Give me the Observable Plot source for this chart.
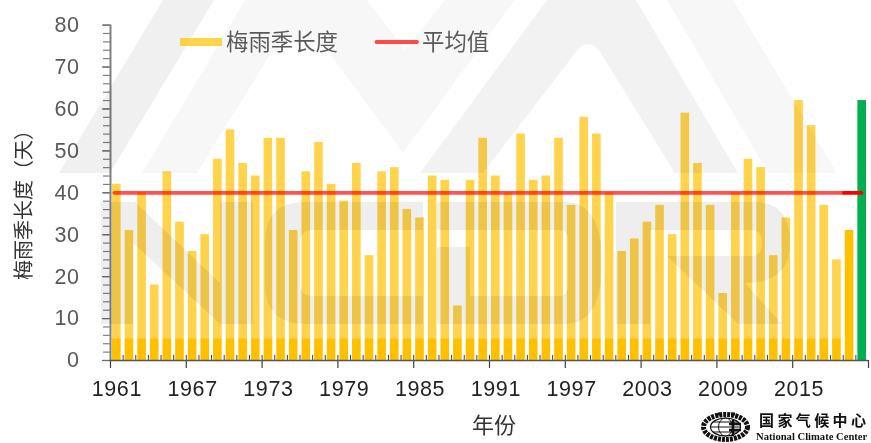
<!DOCTYPE html>
<html lang="zh">
<head>
<meta charset="utf-8">
<script src="https://cdn.jsdelivr.net/npm/d3@7"></script>
<script src="https://cdn.jsdelivr.net/npm/@observablehq/plot@0.6"></script>
<style>
html,body{margin:0;padding:0;background:#fff;}
#stage{position:relative;width:871px;height:443px;overflow:hidden;background:#fff;filter:blur(0.4px);font-family:"Noto Sans CJK SC","Noto Sans",sans-serif;}
#chart svg{display:block;background:transparent;}
.abs{position:absolute;white-space:nowrap;line-height:1;}
.overlay{position:absolute;left:0;top:0;pointer-events:none;}
</style>
</head>
<body>
<div id="stage">
  <div id="chart"></div>
  <svg class="overlay" width="871" height="443" viewBox="0 0 871 443">
    <g fill="#000">
      <path fill-opacity="0.06" d="M59,173L163,0H214L110,173Z"/>
      <path fill-opacity="0.03" d="M142,173L245,0H367L405,50L445,0H515L403,153L333,58Q300,25 270,55L197,173Z"/>
      <path fill-opacity="0.05" d="M420,173L547,0H636L738,173H675L600,52Q588,36 576,52L483,173Z"/>
      <path fill-opacity="0.03" d="M667,0H733L837,173H768Z"/>
      <g fill-opacity="0.067" fill-rule="evenodd">
        <path d="M101,202H135L220,283V202H253V324H220L133,243V324H101Z"/>
        <path d="M423,202H305Q265,202 265,242V284Q265,324 305,324H423V296H313Q300,296 300,283V243Q300,230 313,230H423Z"/>
        <path d="M437,202H565Q602,202 602,263Q602,324 565,324H437ZM437,230V247H470V296H558Q568,296 568,286V240Q568,230 558,230Z"/>
        <path d="M616,202H755Q790,202 790,243Q790,283 745,283L782,324H738L667,256H650V324H616ZM650,230V256H752Q762,256 762,243Q762,230 752,230Z"/>
      </g>
    </g>
  </svg>
  <svg class="overlay" width="871" height="443" viewBox="0 0 871 443">
    <rect x="180" y="38" width="42" height="8" fill="#FFC000" fill-opacity="0.7"/>
    <line x1="376.5" x2="417" y1="42" y2="42" stroke="#FF0000" stroke-opacity="0.7" stroke-width="3.8" stroke-linecap="round"/>
    <g fill="none" stroke="#111">
      <ellipse cx="725.5" cy="427" rx="22" ry="12.5" stroke-width="5" stroke-dasharray="3 1"/>
      <ellipse cx="725.5" cy="427" rx="15" ry="9" stroke-width="1.2"/>
      <ellipse cx="725.5" cy="427" rx="7" ry="9" stroke-width="1"/>
      <path d="M711,427H740M713,422H738M713,432H738" stroke-width="1"/>
      <path d="M733,420V436M729,424H741M729,430H741" stroke-width="2.5"/>
      <path d="M718,414H722M731,414H735" stroke-width="3"/>
    </g>
  </svg>
  <div class="abs" id="legendA" style="left:226px;top:29px;font-size:22.4px;color:#595959;">梅雨季长度</div>
  <div class="abs" id="legendB" style="left:422px;top:29px;font-size:22.4px;color:#595959;">平均值</div>
  <div class="abs" id="titleY" style="left:23px;top:200px;font-size:20px;color:#333;transform:translate(-50%,-50%) rotate(-90deg);">梅雨季长度（天）</div>
  <div class="abs" id="titleX" style="left:472px;top:412px;font-size:22px;color:#333;">年份</div>
  <div class="abs" style="left:759px;top:412px;font-size:15px;font-weight:700;letter-spacing:3.4px;color:#111;">国家气候中心</div>
  <div class="abs" style="left:756px;top:432px;font-family:'Liberation Serif',serif;font-weight:700;font-size:10.6px;color:#111;">National Climate Center</div>
</div>
<script>
const years = d3.range(1961, 2021);
const lengths = [42,31,40,18,45,33,26,30,48,55,47,44,53,53,31,45,52,42,38,47,25,45,46,36,34,44,43,13,43,53,44,40,54,43,44,53,37,58,54,40,26,29,33,37,30,59,47,37,16,40,48,46,25,34,62,56,37,24,31,62];
const averageDays = 40;
const baseBand = 5.2;
const labelYears = [1961,1967,1973,1979,1985,1991,1997,2003,2009,2015];
const majorTickYears = [1961,1967,1973,1979,1985,1991,1997,2003,2009,2015,2021];
const yMajor = [0,10,20,30,40,50,60,70,80];
const yMinor = d3.range(0, 81, 2);

const rows = years.map((year, i) => ({year, next: year + 1, days: lengths[i]}));
const regular = rows.filter(d => d.year < 2019);
const solid2019 = rows.filter(d => d.year === 2019);
const current = rows.filter(d => d.year === 2020);
const font = "'Liberation Sans',Arial,sans-serif";
const barInset = {insetLeft: 2, insetRight: 2};

const chart = Plot.plot({
  width: 871, height: 443,
  marginLeft: 110, marginRight: 3, marginTop: 24.6, marginBottom: 83,
  style: {background: "transparent", fontFamily: font, fontSize: "21.5px", letterSpacing: "0.6px", overflow: "visible"},
  x: {type: "linear", domain: [1961, 2021], axis: null},
  y: {domain: [0, 80], axis: null},
  marks: [
    Plot.rectY(regular, {x1: "year", x2: "next", y1: baseBand, y2: "days", fill: "#FFC000", fillOpacity: 0.7, ...barInset}),
    Plot.rectY(regular, {x1: "year", x2: "next", y1: 0, y2: baseBand, fill: "#FFC000", ...barInset}),
    Plot.rectY(solid2019, {x1: "year", x2: "next", y1: 0, y2: "days", fill: "#FFC000", ...barInset}),
    Plot.rectY(current, {x1: "year", x2: "next", y1: 0, y2: "days", fill: "#00B050", ...barInset}),
    Plot.ruleY([averageDays], {x1: 1961.35, x2: 2019.1, stroke: "#FF0000", strokeOpacity: 0.68, strokeWidth: 3.8, strokeLinecap: "round"}),
    Plot.ruleY([averageDays], {x1: 2019.1, x2: 2020.5, stroke: "#FF0000", strokeWidth: 3.8, strokeLinecap: "round"}),
    Plot.ruleX(years, {x: d => d, y1: 0, y2: 1.2, stroke: "#404040", strokeWidth: 1}),
    Plot.axisY({ticks: yMinor, tickSize: 7, tickFormat: () => "", stroke: "#808080", strokeWidth: 1.2, label: null}),
    Plot.axisY({ticks: yMajor, tickSize: 8, tickPadding: 23, stroke: "#6b6b6b", strokeWidth: 1.2, fill: "#595959", label: null, fontSize: 21.5}),
    Plot.axisX({ticks: majorTickYears, tickSize: 8, tickFormat: () => "", stroke: "#404040", strokeWidth: 1.2, label: null}),
    Plot.axisX({ticks: labelYears.map(d => d + 0.5), tickSize: 0, tickPadding: 20, tickFormat: d => String(d - 0.5), fill: "#222", label: null, fontSize: 21.5}),
    Plot.ruleX([1961], {stroke: "#808080", strokeWidth: 2}),
    Plot.ruleY([0], {stroke: "#555", strokeWidth: 1.3})
  ]
});
document.getElementById("chart").appendChild(chart);
</script>
</body>
</html>
